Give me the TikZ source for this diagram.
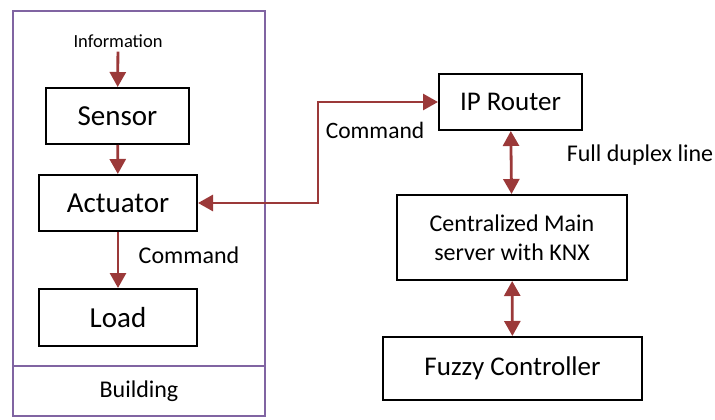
\documentclass[tikz,border=0pt]{standalone}
\usepackage{fontspec}
\setmainfont{Carlito}
\usetikzlibrary{arrows.meta}
\definecolor{arrowred}{RGB}{155,57,57}
\definecolor{framepurple}{RGB}{128,100,162}
\begin{document}
\begin{tikzpicture}[x=1pt,y=-1pt]
		\tikzset{box/.style = {draw, line width=2pt, inner sep=0pt, align=center},
			frame/.style = {draw=framepurple, line width=2.8pt},
			arr/.style = {draw=arrowred, line width=2.8pt, -{Triangle[length=15pt,width=16pt]}},
			darr/.style = {draw=arrowred, line width=2.8pt, {Triangle[length=15pt,width=16pt]}-{Triangle[length=15pt,width=16pt]}},
			lbl/.style = {inner sep=0pt}}
		\useasboundingbox (0,0) rectangle (715,420);

		% building
		\draw[frame] (13,11) rectangle (265,366);
		\node[frame, minimum width=252pt, minimum height=50pt, font=\fontsize{24}{28}\selectfont] (building) at (139,391) {Building};

		\node[lbl, font=\fontsize{18.5}{22}\selectfont] (info) at (118,41) {Information};
		\node[box, minimum width=143pt, minimum height=56pt, font=\fontsize{29}{34}\selectfont] (sensor) at (117.5,116) {Sensor};
		\node[box, minimum width=158pt, minimum height=56pt, font=\fontsize{29}{34}\selectfont] (actuator) at (118,203) {Actuator};
		\node[box, minimum width=158pt, minimum height=57pt, font=\fontsize{29}{34}\selectfont] (load) at (118,317.5) {Load};
		\node[lbl, font=\fontsize{24}{28}\selectfont] (cmd_A) at (189,255) {Command};

		% server side
		\node[box, minimum width=143pt, minimum height=56pt, font=\fontsize{27}{32}\selectfont] (router) at (510.5,102) {IP Router};
		\node[box, minimum width=230pt, minimum height=85pt, font=\fontsize{24}{29}\selectfont] (server) at (512,237.5) {Centralized Main\\server with KNX};
		\node[box, minimum width=259pt, minimum height=63pt, font=\fontsize{27}{32}\selectfont] (fuzzy) at (512.5,368.5) {Fuzzy Controller};
		\node[lbl, font=\fontsize{23.5}{28}\selectfont] (cmd_B) at (375,130) {Command};
		\node[lbl, font=\fontsize{24}{28}\selectfont] (duplex) at (640,155) {Full duplex line};
		\coordinate (bend) at (318,203);

		\draw[arr, shorten <=4pt] (info) -- (sensor);
		\draw[arr] (sensor) -- (actuator);
		\draw[arr] (actuator) -- (load);

		\draw[darr] (actuator.east) -- (bend) |- (router.west);

		\draw[darr] (router) -- (server);
		\draw[darr] (server) -- (fuzzy);

	\end{tikzpicture}
\end{document}
